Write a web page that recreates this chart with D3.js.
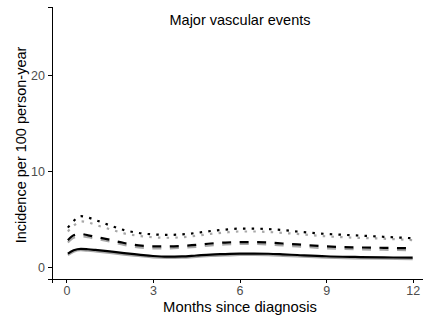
<!DOCTYPE html>
<meta charset="utf-8">
<style>
body { margin: 0; background: #fff; }
svg { font-family: "Liberation Sans", Arial, sans-serif; }

.axis path,
.axis line {
    fill: none;
    stroke: #000;
    stroke-width: 1;
    shape-rendering: crispEdges;
}
.axis text {
    fill: #4d4d4d;
    font-size: 12.5px;
}

path.curve {
    fill: none;
    stroke-width: 2.2;
}
.black { stroke: #000; }
.grey { stroke: #a8a8a8; }
.dashed { stroke-dasharray: 9, 8.5; }
.dotted { stroke-dasharray: 2.5, 6.2; }
</style>
<svg width="423" height="315"></svg>
<script src="https://d3js.org/d3.v7.min.js"></script>
<script>

// months since diagnosis
var months = [0.05, 0.25, 0.5, 0.75, 1, 1.5, 2, 2.5, 3, 3.5, 4, 4.5, 5, 5.5, 6, 6.5, 7, 7.5, 8, 9, 10, 11, 12];

// incidence per 100 person-year, black and grey curves
var solidBlack  = [1.4, 1.75, 1.9, 1.85, 1.78, 1.62, 1.45, 1.3, 1.15, 1.08, 1.1, 1.2, 1.3, 1.35, 1.4, 1.4, 1.38, 1.32, 1.25, 1.12, 1.05, 1.0, 0.97];
var solidGrey   = [1.25, 1.6, 1.75, 1.7, 1.63, 1.47, 1.3, 1.15, 1.0, 0.95, 0.97, 1.05, 1.15, 1.2, 1.25, 1.25, 1.23, 1.17, 1.1, 0.98, 0.9, 0.86, 0.83];
var dashedBlack = [2.8, 3.3, 3.45, 3.3, 3.15, 2.85, 2.5, 2.25, 2.15, 2.15, 2.2, 2.3, 2.45, 2.55, 2.6, 2.6, 2.55, 2.45, 2.35, 2.15, 2.05, 2.0, 1.95];
var dashedGrey  = [2.55, 3.05, 3.2, 3.1, 2.95, 2.65, 2.3, 2.05, 1.95, 1.95, 2.0, 2.1, 2.25, 2.35, 2.4, 2.4, 2.35, 2.25, 2.15, 1.95, 1.85, 1.8, 1.75];
var dottedBlack = [4.1, 4.8, 5.3, 5.15, 4.9, 4.35, 3.85, 3.55, 3.4, 3.35, 3.4, 3.55, 3.75, 3.9, 4.0, 4.0, 3.95, 3.85, 3.7, 3.45, 3.3, 3.15, 3.0];
var dottedGrey  = [3.7, 4.3, 4.75, 4.65, 4.4, 3.95, 3.5, 3.25, 3.1, 3.05, 3.1, 3.25, 3.45, 3.6, 3.7, 3.7, 3.65, 3.55, 3.45, 3.2, 3.05, 2.95, 2.8];

var xTicks = [0, 3, 6, 9, 12];
var yTicks = [0, 10, 20];

var svg = d3.select("svg"),
    panel = {left: 52, top: 7, bottom: 279, right: 430};

var x = d3.scaleLinear()
    .domain([-0.5, 12.6])
    .range([panel.left, panel.right]);

var y = d3.scaleLinear()
    .domain([-1.25, 27.1])
    .range([panel.bottom, panel.top]);

svg.append("clipPath")
    .attr("id", "panel")
  .append("rect")
    .attr("x", panel.left)
    .attr("y", panel.top)
    .attr("width", panel.right - panel.left)
    .attr("height", panel.bottom - panel.top);

var line = d3.line()
    .curve(d3.curveMonotoneX)
    .x(function(d) { return x(d[0]); })
    .y(function(d) { return y(d[1]); });

// grey first so the black ones sit on top
var series = [
    { v: solidGrey,   cls: "grey solid" },
    { v: dashedGrey,  cls: "grey dashed" },
    { v: dottedGrey,  cls: "grey dotted" },
    { v: solidBlack,  cls: "black solid" },
    { v: dashedBlack, cls: "black dashed" },
    { v: dottedBlack, cls: "black dotted" }
];

var g = svg.append("g").attr("clip-path", "url(#panel)");

g.selectAll("path.curve")
    .data(series)
    .enter()
    .append("path")
        .attr("class", function(d) { return "curve " + d.cls; })
        .attr("d", function(d) { return line(months.map(function(m, i) { return [m, d.v[i]]; })); });

// axes
svg.append("g")
    .attr("class", "axis")
    .attr("transform", "translate(0," + panel.bottom + ")")
    .call(d3.axisBottom(x).tickValues(xTicks).tickSizeOuter(0).tickSize(4).tickPadding(3));

svg.append("g")
    .attr("class", "axis")
    .attr("transform", "translate(" + panel.left + ",0)")
    .call(d3.axisLeft(y).tickValues(yTicks).tickSizeOuter(0).tickSize(4).tickPadding(3));

// titles
svg.append("text")
    .attr("x", 240)
    .attr("y", 25)
    .attr("text-anchor", "middle")
    .attr("font-size", "14.5px")
    .text("Major vascular events");

svg.append("text")
    .attr("x", 240)
    .attr("y", 312)
    .attr("text-anchor", "middle")
    .attr("font-size", "14.8px")
    .text("Months since diagnosis");

svg.append("text")
    .attr("transform", "translate(26,145) rotate(-90)")
    .attr("text-anchor", "middle")
    .attr("font-size", "14.5px")
    .text("Incidence per 100 person-year");

</script>
